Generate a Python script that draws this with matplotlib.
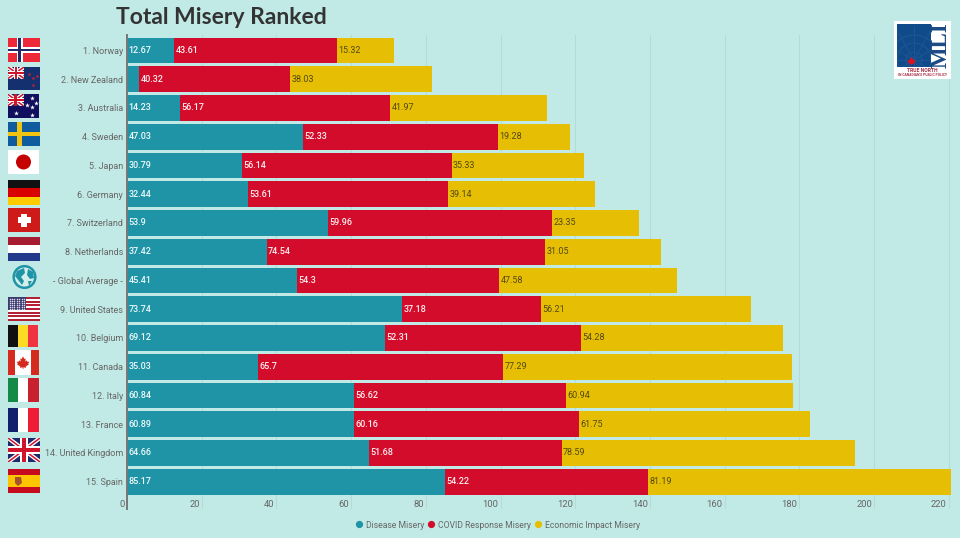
import matplotlib
matplotlib.use('Agg')
import matplotlib.pyplot as plt
import numpy as np
from matplotlib.lines import Line2D
from matplotlib.patches import Circle, Polygon, Rectangle
from matplotlib.transforms import ScaledTranslation

plt.rcParams['font.family'] = ['Roboto', 'DejaVu Sans']

countries = ['1. Norway', '2. New Zealand', '3. Australia', '4. Sweden', '5. Japan', '6. Germany',
             '7. Switzerland', '8. Netherlands', '- Global Average -', '9. United States', '10. Belgium',
             '11. Canada', '12. Italy', '13. France', '14. United Kingdom', '15. Spain']
disease = [12.67, 3.3, 14.23, 47.03, 30.79, 32.44, 53.9, 37.42, 45.41, 73.74, 69.12, 35.03, 60.84, 60.89, 64.66, 85.17]
covid = [43.61, 40.32, 56.17, 52.33, 56.14, 53.61, 59.96, 74.54, 54.3, 37.18, 52.31, 65.7, 56.62, 60.16, 51.68, 54.22]
economic = [15.32, 38.03, 41.97, 19.28, 35.33, 39.14, 23.35, 31.05, 47.58, 56.21, 54.28, 77.29, 60.94, 61.75, 78.59, 81.19]
xticks = list(range(0, 221, 20))

BG = '#c1eae6'
TEAL = '#1f94a6'
RED = '#d40c2c'
YELLOW = '#e6bf05'
GREY = '#666666'

W, H = 960, 538
fig = plt.figure(figsize=(W / 100, H / 100), dpi=100, facecolor=BG)

# plot area in pixels: left 127, top 35, bottom 509
ax = fig.add_axes([127 / W, 1 - 509 / H, (W - 127) / W, (509 - 35) / H], facecolor=BG)
y = np.arange(len(countries))
d = np.array(disease)
c = np.array(covid)
e = np.array(economic)
ax.barh(y, d, height=0.89, color=TEAL, zorder=2)
ax.barh(y, c, left=d, height=0.89, color=RED, zorder=2)
ax.barh(y, e, left=d + c, height=0.89, color=YELLOW, zorder=2)

ax.set_xlim(0, (W - 127) / 3.735)
ax.set_ylim(15.948, -0.539)
ax.set_yticks(y, countries)
ax.set_xticks(xticks, [str(t) for t in xticks])
ax.grid(axis='x', color='#b2dcd8', lw=0.8, zorder=1)
ax.set_axisbelow(True)
for s in ['top', 'right', 'bottom']:
    ax.spines[s].set_visible(False)
ax.spines['left'].set_color('#777777')
ax.spines['left'].set_linewidth(1.4)
ax.spines['left'].set_zorder(4)
ax.tick_params(axis='y', length=0, pad=2.8, labelsize=6.5, labelcolor=GREY)
ax.tick_params(axis='x', length=0, pad=-6.5, labelsize=6.8, labelcolor=GREY)
shift = ScaledTranslation(-2 / 100, 0, fig.dpi_scale_trans)
for lab in ax.get_xticklabels():
    lab.set_ha('right')
    lab.set_transform(lab.get_transform() + shift)


def bar_text(vals, lefts, color, weight='medium'):
    for i, (v, l) in enumerate(zip(vals, lefts)):
        if v < 5:  # too narrow, no label in the original
            continue
        ax.annotate(str(v), (l, i), xytext=(1, 0), textcoords='offset points', ha='left', va='center',
                    fontsize=6.5, color=color, fontweight=weight, zorder=5)


bar_text(disease, np.zeros(len(d)), '#f0fafa')
bar_text(covid, d, '#fdf0f0')
bar_text(economic, d + c, '#54480f', 'normal')

handles = [Line2D([], [], marker='o', ls='', ms=4.2, color=col) for col in (TEAL, RED, YELLOW)]
fig.legend(handles, ['Disease Misery', 'COVID Response Misery', 'Economic Impact Misery'],
           loc='center', bbox_to_anchor=(498 / W, 1 - 525 / H), ncol=3, frameon=False,
           fontsize=6.2, labelcolor=GREY, handlelength=0.7, handletextpad=0.4, columnspacing=0.5, borderpad=0)

fig.text(116 / W, 1 - 18 / H, 'Total Misery Ranked', fontsize=16.5, fontweight='bold', color='#333333',
         ha='left', va='center', family=['Lato', 'DejaVu Sans'])

# overlay in pixel coordinates for the flags and the logo
ov = fig.add_axes([0, 0, 1, 1], facecolor='none')
ov.set_xlim(0, W)
ov.set_ylim(H, 0)
ov.axis('off')


def rect(x, y0, w, h, col, z=5):
    p = Rectangle((x, y0), w, h, fc=col, ec='none', zorder=z)
    ov.add_patch(p)
    return p


def hstripes(x, y0, w, h, cols):
    for i, col in enumerate(cols):
        rect(x, y0 + i * h / len(cols), w, h / len(cols), col)


def vstripes(x, y0, w, h, cols):
    for i, col in enumerate(cols):
        rect(x + i * w / len(cols), y0, w / len(cols), h, col)


def nordic(x, y0, w, h, bg, cross, inner=None):
    rect(x, y0, w, h, bg)
    cx = x + w * 0.36
    cy = y0 + h / 2
    if inner:
        rect(cx - 3, y0, 6, h, inner, 6)
        rect(x, cy - 3, w, 6, inner, 6)
    t = 2.6 if inner else 4.4
    rect(cx - t / 2, y0, t, h, cross, 7)
    rect(x, cy - t / 2, w, t, cross, 7)


def union(x, y0, w, h):
    clip = rect(x, y0, w, h, '#1f2a6b')
    for a, b in [((x, y0), (x + w, y0 + h)), ((x, y0 + h), (x + w, y0))]:
        for lw, col in [(3, 'white'), (1.1, '#cf142b')]:
            ln, = ov.plot([a[0], b[0]], [a[1], b[1]], color=col, lw=lw, zorder=6, solid_capstyle='butt')
            ln.set_clip_path(clip)
    rect(x + w / 2 - w * .11, y0, w * .22, h, 'white', 7)
    rect(x, y0 + h / 2 - h * .17, w, h * .34, 'white', 7)
    rect(x + w / 2 - w * .065, y0, w * .13, h, '#cf142b', 8)
    rect(x, y0 + h / 2 - h * .1, w, h * .2, '#cf142b', 8)


def leaf(cx, cy, s, col, z=8):
    pts = np.array([[0, -1], [.22, -.55], [.45, -.68], [.36, -.15], [.62, -.35], [.72, -.1], [1, -.15],
                    [.85, .2], [.95, .3], [.45, .65], [.5, .85], [.06, .78], [.06, 1.05], [-.06, 1.05],
                    [-.06, .78], [-.5, .85], [-.45, .65], [-.95, .3], [-.85, .2], [-1, -.15], [-.72, -.1],
                    [-.62, -.35], [-.36, -.15], [-.45, -.68], [-.22, -.55]])
    ov.add_patch(Polygon(pts * s + [cx, cy], fc=col, ec='none', zorder=z))


def stars(pts, col, s, z=9):
    ov.scatter([p[0] for p in pts], [p[1] for p in pts], marker='*', s=s, color=col, linewidths=0, zorder=z)


# Norway
nordic(8, 38, 32, 24, '#ed2939', '#1f2a6b', 'white')
# New Zealand
rect(8, 67, 32, 23, '#14306e')
union(8, 67, 16, 11.5)
stars([(29, 74), (33, 78), (37, 76), (33, 85)], '#cc2233', 9)
# Australia
rect(7.5, 94, 31, 24, '#10105e')
union(7.5, 94, 16, 12)
stars([(15.5, 112.5), (32, 98), (27, 105), (36, 103), (32, 115), (32, 107)], 'white', 13)
# Sweden
nordic(8, 122, 32, 24, '#0f5c9e', '#f1c40f')
# Japan
rect(8, 150, 30.5, 24, 'white')
ov.add_patch(Circle((23.5, 162), 7.5, fc='#c40000', ec='none', zorder=6))
# Germany
hstripes(8, 180, 31.5, 25, ['#111111', '#d90000', '#ffcc00'])
# Switzerland
rect(8, 208, 32, 24, '#cf1a1a')
rect(21, 213.5, 6, 13, 'white', 6)
rect(17.5, 217, 13, 6, 'white', 6)
# Netherlands
hstripes(8, 237, 32, 24, ['#a51c30', 'white', '#233a8b'])
# globe icon
ov.add_patch(Circle((24.5, 277), 10.8, fc='#d3efec', ec=TEAL, lw=1.8, zorder=5))
ov.add_patch(Polygon([[17, 271], [24, 268], [25, 273], [21, 277], [24, 281], [22, 285], [19, 281], [15, 276]],
                     fc=TEAL, ec='none', zorder=6))
ov.add_patch(Polygon([[28, 269], [33, 272], [34, 278], [30, 279], [27, 275]], fc=TEAL, ec='none', zorder=6))
ov.add_patch(Polygon([[28, 281], [32, 281], [29, 286]], fc=TEAL, ec='none', zorder=6))
# United States
hstripes(8, 297, 32, 24, ['#b22234', 'white'] * 6 + ['#b22234'])
rect(8, 297, 18, 13, '#3c3b6e', 6)
gx, gy = np.meshgrid(np.arange(9.5, 26, 2.4), np.arange(298.5, 310, 2.2))
ov.scatter(gx.ravel(), gy.ravel(), s=1.2, color='#d8d8e8', linewidths=0, zorder=7)
# Belgium
vstripes(8, 325, 30, 22, ['#111111', '#fdda24', '#ef3340'])
# Canada
vstripes(7.5, 350, 31, 25, ['#d52b1e', 'white', 'white', '#d52b1e'])
leaf(23, 362.5, 6.2, '#d52b1e')
# Italy
vstripes(7.5, 378, 31, 24, ['#138a45', 'white', '#c8202f'])
# France
vstripes(7.5, 408, 31, 24, ['#10206b', 'white', '#ef1c35'])
# United Kingdom
union(8, 438, 32, 24)
# Spain
rect(8, 469, 32, 24, '#c60b1e')
rect(8, 475, 32, 12, '#ffc400', 6)
ov.add_patch(Polygon([[15, 477], [21, 477], [22, 483], [18, 486], [15, 483]], fc='#a5542a', ec='none', zorder=7))

# MLI logo
rect(894, 21, 57, 58, 'white', 5)
box = rect(897, 23.5, 34, 43.5, '#0f4a8a', 6)
for r in (8, 17, 25):
    circ = Circle((914, 60), r, fc='none', ec='#1d5692', lw=0.8, zorder=7)
    ov.add_patch(circ)
    circ.set_clip_path(box)
for ang in np.arange(0, 360, 30):
    ln, = ov.plot([914, 914 + 34 * np.cos(np.radians(ang))], [60, 60 + 34 * np.sin(np.radians(ang))],
                  color='#1d5692', lw=0.7, zorder=7)
    ln.set_clip_path(box)
leaf(911.5, 61, 4, '#e0101c', z=9)
ov.text(941, 45, 'MLI', rotation=90, ha='center', va='center', fontsize=16.5, family='Liberation Serif',
        fontweight='bold', color='#1b4a86', zorder=8)
ov.text(922, 71, 'TRUE NORTH', ha='center', va='center', fontsize=3.6, fontweight='bold', color='#a63042', zorder=8)
ov.text(922, 75.5, "IN CANADIAN'S PUBLIC POLICY", ha='center', va='center', fontsize=2.4, fontweight='bold',
        color='#a63042', zorder=8)

fig.savefig('out.png', dpi=100, facecolor=BG)
